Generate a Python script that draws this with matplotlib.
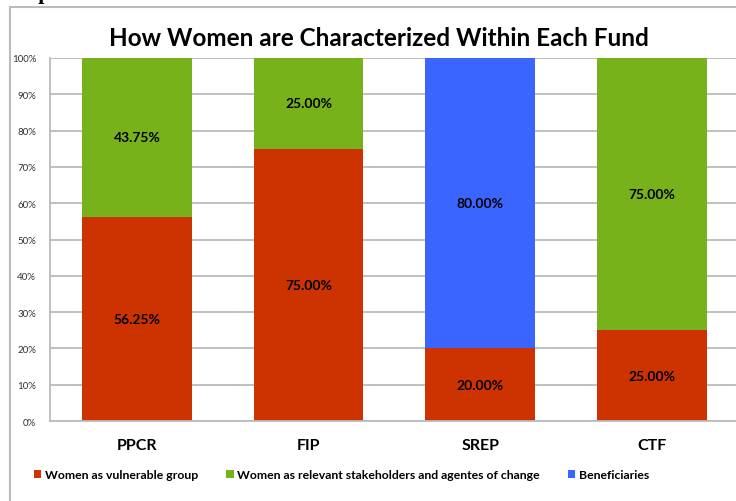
import numpy as np
import matplotlib
matplotlib.use("Agg")
from matplotlib import pyplot as plt
from matplotlib.patches import Rectangle

funds = ['PPCR', 'FIP', 'SREP', 'CTF']
vulnerable = [56.25, 75.00, 20.00, 25.00]
stakeholders = [43.75, 25.00, 0.0, 75.00]
beneficiaries = [0.0, 0.0, 80.00, 0.0]
series_names = ['Women as vulnerable group',
                'Women as relevant stakeholders and agentes of change',
                'Beneficiaries']
colors = ['#CC3300', '#77B21B', '#3A66FF']

plt.rcParams['font.family'] = ['Lato', 'DejaVu Sans']

fig = plt.figure(figsize=(7.36, 5.02), dpi=100)
# outer chart frame
fig.patches.append(Rectangle((10 / 736, -0.02), 1.0, 1 - 8 / 502 + 0.02,
                             transform=fig.transFigure, fill=False,
                             edgecolor='#BBBBBB', linewidth=1.5))
fig.text(0.0, 1.012, 'Graph 2', family='Liberation Serif', weight='bold',
         fontsize=16, ha='left', va='center')

ax = fig.add_axes([50 / 736, 1 - 422 / 502, 1 - 50 / 736, (422 - 59) / 502])
x = np.arange(len(funds))
w = 0.64
bottom = np.zeros(len(funds))
for vals, name, c in zip([vulnerable, stakeholders, beneficiaries], series_names, colors):
    vals = np.array(vals)
    ax.bar(x, vals, w, bottom=bottom, color=c, label=name, zorder=2)
    for xi, b, v in zip(x, bottom, vals):
        if v > 0:
            ax.text(xi, b + v / 2, f'{v:.2f}%', ha='center', va='center',
                    fontsize=10, weight='bold', zorder=3)
    bottom += vals

ax.set_xlim(-0.506, 3.49)
ax.set_ylim(0, 100)
ax.set_yticks(np.arange(0, 101, 10))
ax.set_yticklabels([f'{v}%' for v in range(0, 101, 10)], fontsize=7, color='#333333')
ax.set_xticks(x)
ax.set_xticklabels(funds, fontsize=11.5, weight='bold')
ax.tick_params(axis='both', length=0)
ax.tick_params(axis='y', pad=10)
ax.tick_params(axis='x', pad=12)
ax.grid(axis='y', color='#BBBBBB', linewidth=1.3, zorder=0)
ax.set_axisbelow(True)
for s in ['top', 'right']:
    ax.spines[s].set_visible(False)
for s in ['left', 'bottom']:
    ax.spines[s].set_color('#BBBBBB')
    ax.spines[s].set_linewidth(1.3)

fig.text(379 / 736, 1 - 38 / 502, 'How Women are Characterized Within Each Fund',
         ha='center', va='center', fontsize=17.5, weight='bold')

leg = fig.legend(loc='center left', bbox_to_anchor=(34 / 736, 1 - 476 / 502), ncol=3,
                 frameon=False, handlelength=0.6, handleheight=0.6,
                 handletextpad=0.3, columnspacing=2.3, borderaxespad=0,
                 borderpad=0, prop={'size': 8.8, 'weight': 'bold'})

fig.savefig('out.png', dpi=100)
